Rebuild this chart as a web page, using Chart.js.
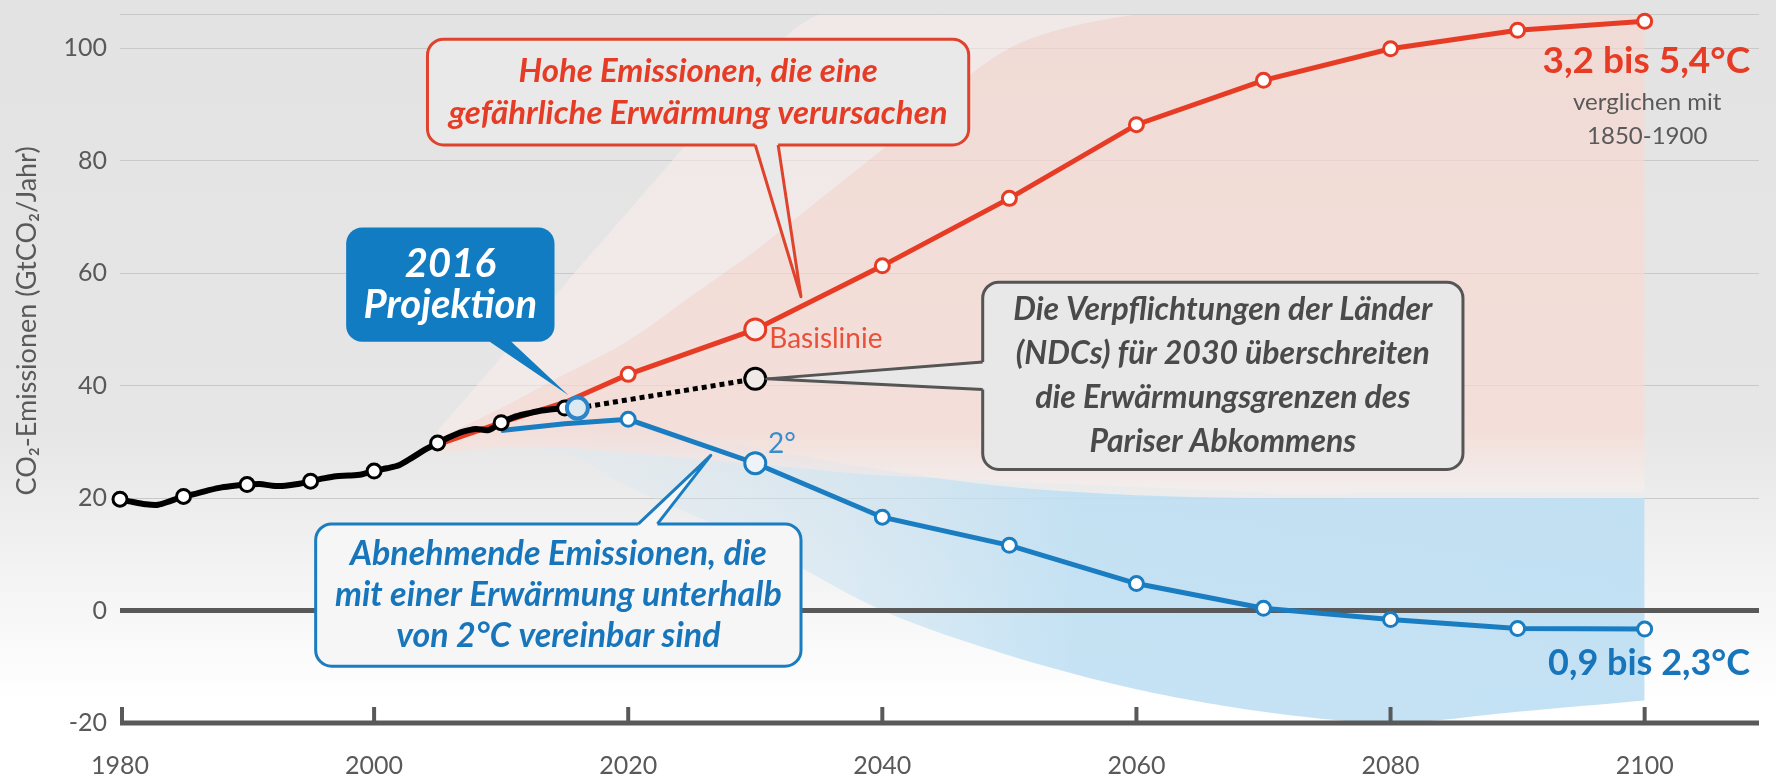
<!DOCTYPE html>
<html lang="de">
<head>
<meta charset="utf-8">
<title>CO2-Emissionen: Szenarien bis 2100</title>
<script src="https://cdn.jsdelivr.net/npm/chart.js@4/dist/chart.umd.min.js"></script>
<style>
  html, body { margin: 0; padding: 0; background: #fff; }
  #wrap { width: 1776px; height: 780px; position: relative; }
</style>
</head>
<body>
<div id="wrap"><canvas id="chart"></canvas></div>
<script>
// historische Emissionen (GtCO2/Jahr)
const histYears = [1980,1981,1982,1983,1984,1985,1986,1987,1988,1989,1990,1991,1992,1993,1994,1995,1996,1997,
  1998,1999,2000,2001,2002,2003,2004,2005,2006,2007,2008,2009,2010,2011,2012,2013,2014,2015];
const histValues = [19.8,19.3,18.9,18.8,19.5,20.3,20.8,21.4,21.9,22.2,22.4,22.5,22.2,22.2,22.5,23.0,23.5,23.9,
  24.0,24.2,24.8,25.3,25.9,27.2,28.6,29.8,30.9,31.8,32.3,32.1,33.4,34.4,35.0,35.5,35.8,36.0];

// Basislinie (hohe Emissionen)
const baseYears = [2005, 2010, 2015, 2020, 2030, 2040, 2050, 2060, 2070, 2080, 2090, 2100];
const baseValues = [29.5, 33.4, 37.0, 42.0, 50.0, 61.3, 73.3, 86.4, 94.3, 99.9, 103.2, 104.8];

// 2°-Pfad
const lowYears = [2010, 2015, 2020, 2030, 2040, 2050, 2060, 2070, 2080, 2090, 2100];
const lowValues = [32.0, 33.2, 34.0, 26.2, 16.6, 11.6, 4.8, 0.4, -1.6, -3.2, -3.3];

// NDCs 2030 und Projektion 2016
const ndcYears = [2016, 2030];
const ndcValues = [36.0, 41.2];
const projYears = [2016];
const projValues = [36.0];

// Szenario-Fächer
const fanYears = [2005, 2010, 2015, 2020, 2025, 2030, 2035, 2040, 2050, 2060, 2070, 2080, 2090, 2100];
const redFanHigh = [32, 45, 58, 71, 84, 97, 106, 106, 106, 106, 106, 106, 106, 106];
const redFanMid = [30.5, 36, 42, 48, 56, 64, 73, 82, 100, 106, 106, 106, 106, 106];
const redFanLow = [28, 29, 29, 28, 27, 26, 25, 24, 23, 22, 21, 21, 21, 21];
const blueFanYears = [2008, 2015, 2020, 2030, 2040, 2050, 2060, 2070, 2080, 2090, 2100];
const blueFanHigh = [31, 33, 33, 29, 25, 22, 20.5, 20, 20, 20, 20];
const blueFanLow = [30, 28, 22, 12, 0, -8, -14, -18, -20, -18, -16];

const xTicks = [1980, 2000, 2020, 2040, 2060, 2080, 2100];
const yTicks = [-20, 0, 20, 40, 60, 80, 100];
const yMax = 106;

const RED = '#e63c25';
const BLUE = '#1a7cc1';
const GREY = '#595959';

const pts = (xs, ys) => xs.map((x, i) => ({ x, y: ys[i] }));

function markerRadius(small, big) {
  return c => big.includes(c.raw.x) ? 10.5 : (small(c.raw.x) ? 7 : 0);
}
function markerFill(bigFill) {
  return c => c.raw.x === 2030 || c.raw.x === 2016 ? bigFill : '#ffffff';
}

function gradient(axis, stops) {
  return c => {
    const { chart } = c;
    if (!chart.chartArea) return stops[0][1];
    const s = chart.scales[axis];
    const p0 = s.getPixelForValue(stops[0][0]);
    const p1 = s.getPixelForValue(stops[stops.length - 1][0]);
    const g = axis === 'x'
      ? chart.ctx.createLinearGradient(p0, 0, p1, 0)
      : chart.ctx.createLinearGradient(0, p0, 0, p1);
    const span = stops[stops.length - 1][0] - stops[0][0];
    stops.forEach(([v, col]) => g.addColorStop((v - stops[0][0]) / span, col));
    return g;
  };
}

const fan = (data, fill, bg) => ({
  data, fill, backgroundColor: bg, borderWidth: 0, pointRadius: 0, order: 5, tension: 0.3
});

// Sprechblasen (Positionen in Jahr / GtCO2)
const callouts = [
  { box: [2004.2, 101.6, 2046.8, 82.8], base: [[2030.0, 82.8], [2031.8, 82.8]], tip: [2033.6, 55.8], dir: [0, -1],
    fill: '#e9e9e9', stroke: '#e0432d', color: '#e63c25', font: 'italic bold 33px Lato', gap: 42,
    lines: ['Hohe Emissionen, die eine', 'gefährliche Erwärmung verursachen'] },
  { box: [1997.8, 68.1, 2014.2, 47.8], base: [[2009.1, 47.8], [2010.8, 47.8]], tip: [2015.3, 38.3], dir: [0, -1],
    fill: '#127cc3', stroke: null, color: '#ffffff', font: 'italic bold 40px Lato', gap: 41,
    lines: ['2016', 'Projektion'] },
  { box: [2047.9, 58.4, 2085.7, 25.1], base: [[2047.9, 44.2], [2047.9, 39.3]], tip: [2030.9, 41.2], dir: [1, 0],
    fill: '#e8e8e8', stroke: '#555555', color: '#4a4a4a', font: 'italic bold 32px Lato', gap: 44,
    lines: ['Die Verpflichtungen der Länder', '(NDCs) für 2030 überschreiten', 'die Erwärmungsgrenzen des', 'Pariser Abkommens'] },
  { box: [1995.4, 15.4, 2033.6, -9.9], base: [[2020.8, 15.4], [2022.3, 15.4]], tip: [2026.5, 27.6], dir: [0, 1],
    fill: '#f6f6f6', stroke: '#1a7cc1', color: '#1775bb', font: 'italic bold 34px Lato', gap: 41,
    lines: ['Abnehmende Emissionen, die', 'mit einer Erwärmung unterhalb', 'von 2°C vereinbar sind'] }
];

const labels = [
  { text: 'Basislinie', at: [2031.1, 48.3], align: 'left', font: '28px Lato', color: '#e8503a' },
  { text: '2°', at: [2031.0, 29.6], align: 'left', font: '28px Lato', color: '#3a8ccb' },
  { text: '3,2 bis 5,4°C', at: [2108.3, 97.7], align: 'right', font: 'bold 37px Lato', color: '#e63c25' },
  { text: 'verglichen mit', at: [2100.2, 90.4], align: 'center', font: '24px Lato', color: GREY },
  { text: '1850-1900', at: [2100.2, 84.4], align: 'center', font: '24px Lato', color: GREY },
  { text: '0,9 bis 2,3°C', at: [2108.3, -9.4], align: 'right', font: 'bold 36px Lato', color: '#1775bb' }
];

const background = {
  id: 'background',
  beforeDraw(chart) {
    const { ctx, width, height } = chart;
    const g = ctx.createLinearGradient(0, 0, 0, height);
    g.addColorStop(0, '#e3e3e3');
    g.addColorStop(0.55, '#e6e6e6');
    g.addColorStop(0.9, '#ffffff');
    g.addColorStop(1, '#ffffff');
    ctx.save();
    ctx.fillStyle = g;
    ctx.fillRect(0, 0, width, height);
    ctx.restore();
  }
};

const axes = {
  id: 'axes',
  beforeDatasetsDraw(chart) {
    const { ctx, chartArea: a, scales: { x, y } } = chart;
    ctx.save();
    ctx.strokeStyle = GREY;
    ctx.lineWidth = 5;
    ctx.lineCap = 'butt';
    const y0 = y.getPixelForValue(0);
    const yb = y.getPixelForValue(y.min);
    ctx.beginPath();
    ctx.moveTo(a.left, y0); ctx.lineTo(a.right, y0);
    ctx.moveTo(a.left, yb); ctx.lineTo(a.right, yb);
    ctx.stroke();
    ctx.lineWidth = 4;
    ctx.beginPath();
    x.ticks.forEach(t => {
      const px = x.getPixelForValue(t.value) + (t.value === x.min ? 2 : 0);
      ctx.moveTo(px, yb); ctx.lineTo(px, yb - 16);
    });
    ctx.stroke();
    ctx.restore();
  }
};

const notes = {
  id: 'notes',
  afterDatasetsDraw(chart) {
    const { ctx, scales: { x, y } } = chart;
    const X = v => x.getPixelForValue(v);
    const Y = v => y.getPixelForValue(v);
    ctx.save();
    callouts.forEach(c => {
      const x1 = X(c.box[0]), y1 = Y(c.box[1]), x2 = X(c.box[2]), y2 = Y(c.box[3]);
      const a = { x: X(c.base[0][0]), y: Y(c.base[0][1]) };
      const b = { x: X(c.base[1][0]), y: Y(c.base[1][1]) };
      const tip = { x: X(c.tip[0]), y: Y(c.tip[1]) };
      const lw = 3;
      ctx.lineWidth = lw;
      ctx.lineJoin = 'round';
      ctx.fillStyle = c.fill;
      ctx.beginPath();
      ctx.roundRect(x1, y1, x2 - x1, y2 - y1, 16);
      ctx.fill();
      if (c.stroke) { ctx.strokeStyle = c.stroke; ctx.stroke(); }
      const [dx, dy] = c.dir;
      ctx.beginPath();
      ctx.moveTo(a.x + dx * lw * 1.5, a.y + dy * lw * 1.5);
      ctx.lineTo(a.x, a.y);
      ctx.lineTo(tip.x, tip.y);
      ctx.lineTo(b.x, b.y);
      ctx.lineTo(b.x + dx * lw * 1.5, b.y + dy * lw * 1.5);
      ctx.closePath();
      ctx.fill();
      if (c.stroke) {
        ctx.beginPath();
        ctx.moveTo(a.x, a.y); ctx.lineTo(tip.x, tip.y); ctx.lineTo(b.x, b.y);
        ctx.stroke();
      }
      ctx.fillStyle = c.color;
      ctx.font = c.font;
      ctx.textAlign = 'center';
      ctx.textBaseline = 'middle';
      const cx = (x1 + x2) / 2, cy = (y1 + y2) / 2;
      c.lines.forEach((ln, i) => ctx.fillText(ln, cx, cy + (i - (c.lines.length - 1) / 2) * c.gap));
    });
    labels.forEach(l => {
      ctx.font = l.font;
      ctx.fillStyle = l.color;
      ctx.textAlign = l.align;
      ctx.textBaseline = 'middle';
      ctx.fillText(l.text, X(l.at[0]), Y(l.at[1]));
    });
    // Achsentitel
    ctx.translate(27, Y(51.5));
    ctx.rotate(-Math.PI / 2);
    ctx.font = '27px Lato';
    ctx.fillStyle = GREY;
    ctx.textAlign = 'center';
    ctx.textBaseline = 'middle';
    ctx.fillText('CO₂-Emissionen (GtCO₂/Jahr)', 0, 0);
    ctx.restore();
  }
};

new Chart(document.getElementById('chart'), {
  type: 'line',
  data: {
    datasets: [
      { data: pts(projYears, projValues), borderColor: BLUE, borderWidth: 4, pointRadius: 10.5, clip: false,
        pointBorderWidth: 4, pointBorderColor: '#2a86c8', pointBackgroundColor: '#dde9f1', order: -1 },
      { data: pts(histYears, histValues), borderColor: '#000', borderWidth: 6, tension: 0.3, clip: false,
        pointRadius: markerRadius(yr => yr % 5 === 0, []), pointBorderWidth: 3,
        pointBorderColor: '#000', pointBackgroundColor: '#fff' },
      { data: pts(ndcYears, ndcValues), borderColor: '#000', borderWidth: 5, borderDash: [5, 4], clip: false,
        pointRadius: markerRadius(() => false, [2030]), pointBorderWidth: 3,
        pointBorderColor: '#000', pointBackgroundColor: '#efe9e7' },
      { data: pts(lowYears, lowValues), borderColor: BLUE, borderWidth: 5, clip: false,
        pointRadius: markerRadius(yr => yr >= 2020, [2030]), pointBorderWidth: 3,
        pointBorderColor: BLUE, pointBackgroundColor: markerFill('#eef3f7') },
      { data: pts(baseYears, baseValues), borderColor: RED, borderWidth: 5, clip: false,
        pointRadius: markerRadius(yr => yr >= 2020, [2030]), pointBorderWidth: 3,
        pointBorderColor: RED, pointBackgroundColor: markerFill('#f8f0ee') },
      fan(pts(fanYears, redFanHigh), '+1', 'rgba(250,236,233,0.6)'),
      fan(pts(fanYears, redFanMid), '+1', gradient('y', [
        [21, 'rgba(250,240,238,0.5)'], [32, 'rgba(250,218,210,0.65)'], [106, 'rgba(248,214,206,0.65)']])),
      fan(pts(fanYears, redFanLow), false, 'rgba(0,0,0,0)'),
      fan(pts(blueFanYears, blueFanHigh), '+1', gradient('x', [
        [2008, 'rgba(225,235,242,0.2)'], [2030, 'rgba(208,229,242,0.5)'],
        [2055, 'rgba(190,223,243,0.88)'], [2100, 'rgba(190,223,243,0.92)']])),
      fan(pts(blueFanYears, blueFanLow), false, 'rgba(0,0,0,0)')
    ]
  },
  options: {
    responsive: true,
    maintainAspectRatio: false,
    animation: false,
    events: [],
    layout: { padding: { top: 11, right: 17, left: 0, bottom: 0 } },
    plugins: {
      legend: { display: false },
      tooltip: { enabled: false },
      filler: { drawTime: 'beforeDatasetsDraw' }
    },
    scales: {
      x: {
        type: 'linear', min: 1980, max: 2109,
        border: { display: false },
        grid: { display: false, drawTicks: false },
        afterBuildTicks: s => { s.ticks = xTicks.map(value => ({ value })); },
        ticks: { callback: v => String(v), color: GREY, font: { family: 'Lato', size: 25 },
          padding: 28, autoSkip: false, maxRotation: 0 },
        afterFit: s => { s.height = 57; s.paddingLeft = 0; s.paddingRight = 0; }
      },
      y: {
        min: -20, max: yMax,
        border: { display: false },
        grid: { drawTicks: false, lineWidth: 1,
          color: c => c.tick.value <= 0 ? 'rgba(0,0,0,0)' : '#c9c9c9' },
        afterBuildTicks: s => { s.ticks = [...yTicks, yMax].map(value => ({ value })); },
        ticks: { callback: v => yTicks.includes(v) ? String(v) : '', color: GREY,
          font: { family: 'Lato', size: 25 }, padding: 13 },
        afterFit: s => { s.width = 120; s.paddingTop = 0; s.paddingBottom = 0; }
      }
    }
  },
  plugins: [background, axes, notes]
});
</script>
</body>
</html>
